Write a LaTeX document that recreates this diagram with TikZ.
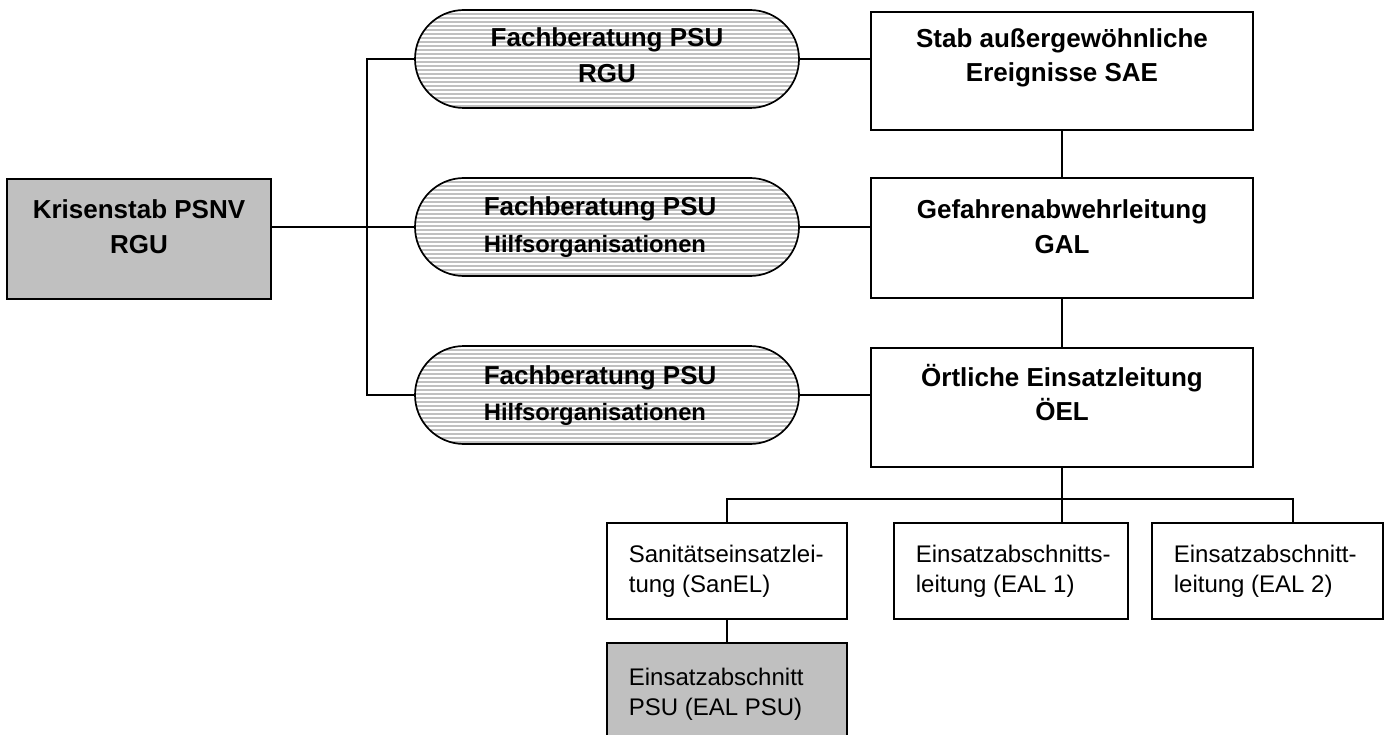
\documentclass[tikz,border=0pt]{standalone}
\usepackage{fontspec}
\setmainfont{Liberation Sans}
\definecolor{boxgray}{HTML}{C0C0C0}
\tikzset{
  every path/.style={line width=1.7pt},
  box/.style={draw=black, rectangle, inner sep=0pt},
  graybox/.style={box, fill=boxgray},
  pill/.style={draw=black, rectangle, rounded corners=49pt, inner sep=0pt,
    minimum width=384pt, minimum height=98pt, fill=boxgray,
    path picture={\foreach \k in {0,...,26}{\draw[white,line width=1.2pt]
      ([yshift=-\k*4pt-2pt]path picture bounding box.north west) --
      ([yshift=-\k*4pt-2pt]path picture bounding box.north east);}}},
  bigtxt/.style={inner sep=0pt, font=\bfseries\fontsize{26}{34}\selectfont},
  smalltxt/.style={inner sep=0pt, font=\fontsize{24}{29.5}\selectfont, align=left, anchor=base west},
  conn/.style={draw=black, line width=1.7pt}
}
\begin{document}
\begin{tikzpicture}[x=1pt,y=-1pt]
\useasboundingbox (0,0) rectangle (1396,735);
% left box
\node[graybox, minimum width=264pt, minimum height=120pt] (kris) at (139,239) {};
\node[bigtxt, align=center, anchor=base] (krist) at (139,253) {Krisenstab PSNV\\RGU};
% pills
\node[pill] (p1) at (607,59) {};
\node[pill] (p2) at (607,227) {};
\node[pill] (p3) at (607,395) {};
\node[bigtxt, align=center, anchor=base] (p1t) at (607,83) {Fachberatung PSU\\[2pt]RGU};
\node[bigtxt, align=left, anchor=base west] (p2t) at (483,252) {Fachberatung PSU\\[2pt]{\fontsize{23.8}{28}\selectfont Hilfsorganisationen}};
\node[bigtxt, align=left, anchor=base west] (p3t) at (483,420) {Fachberatung PSU\\[2pt]{\fontsize{23.8}{28}\selectfont Hilfsorganisationen}};
% right boxes
\node[box, minimum width=382pt, minimum height=118pt] (stab) at (1062,71) {};
\node[box, minimum width=382pt, minimum height=120pt] (gal) at (1062,238) {};
\node[box, minimum width=382pt, minimum height=119pt] (oel) at (1062,407.5) {};
\node[bigtxt, align=center, anchor=base] (stabt) at (1062,82) {Stab außergewöhnliche\\Ereignisse SAE};
\node[bigtxt, align=center, anchor=base] (galt) at (1062,253) {Gefahrenabwehrleitung\\GAL};
\node[bigtxt, align=center, anchor=base] (oelt) at (1062,420) {Örtliche Einsatzleitung\\ÖEL};
% lower boxes
\node[box, minimum width=240pt, minimum height=96pt] (san) at (727,571) {};
\node[box, minimum width=234pt, minimum height=96pt] (eal1) at (1011,571) {};
\node[box, minimum width=231pt, minimum height=96pt] (eal2) at (1267.5,571) {};
\node[graybox, minimum width=240pt, minimum height=97pt] (psu) at (727,691.5) {};
\node[smalltxt] (sant) at (628,592) {Sanitätseinsatzlei-\\tung (SanEL)};
\node[smalltxt] (eal1t) at (915,592) {Einsatzabschnitts-\\leitung (EAL 1)};
\node[smalltxt] (eal2t) at (1173,592) {Einsatzabschnitt-\\leitung (EAL 2)};
\node[smalltxt] (psut) at (628,715) {Einsatzabschnitt\\PSU (EAL PSU)};
% connectors
\coordinate (bus) at (367,59);
\coordinate (lowbus) at (727,499);
\coordinate (e2top) at (1293,523);
\draw[conn] (kris.east |- p2.west) -- (p2.west);
\draw[conn] (p1.west) -- (p1.west -| bus) -- (p3.west -| bus) -- (p3.west);
\draw[conn] (p1.east) -- (p1.east -| stab.west);
\draw[conn] (p2.east) -- (p2.east -| gal.west);
\draw[conn] (p3.east) -- (p3.east -| oel.west);
\draw[conn] (stab.south) -- (gal.north);
\draw[conn] (gal.south) -- (oel.north);
\draw[conn] (oel.south) -- (oel.south |- eal1.north);
\draw[conn] (san.north) -- (lowbus) -- (lowbus -| e2top) -- (e2top);
\draw[conn] (san.south) -- (psu.north);
\end{tikzpicture}
\end{document}
